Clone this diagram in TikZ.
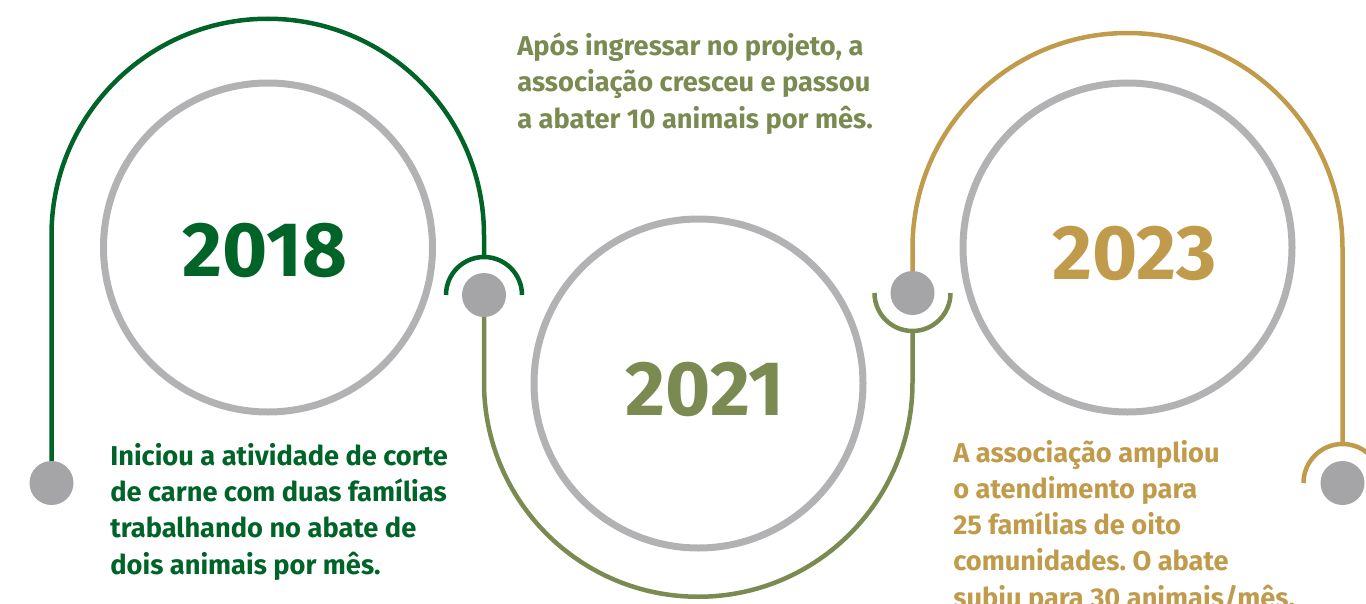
\documentclass[tikz,border=0pt]{standalone}
\usepackage{fontspec}
\setmainfont{Fira Sans}
\usepackage{xcolor}
\usepackage{tikz}
\usetikzlibrary{calc}
\frenchspacing
\definecolor{mata}{HTML}{006428}
\definecolor{oliva}{HTML}{7A8A50}
\definecolor{ouro}{HTML}{C09B4B}
\definecolor{aro}{HTML}{B2B2B4}
\definecolor{ponto}{HTML}{A5A5A7}
\tikzset{
  dot/.style={circle, fill=ponto, minimum size=44*0.02cm, inner sep=0pt},
  ring/.style={circle, draw=aro, line width=7*0.02cm, minimum size=329*0.02cm, inner sep=0pt},
  yearlbl/.style={inner sep=0pt, font=\fontsize{44}{48}\selectfont\bfseries},
  note/.style={inner sep=0pt, align=left, anchor=base west, font=\fontsize{15.5}{20.6}\selectfont\bfseries},
  track/.style={line width=4.5*0.02cm}
}
\begin{document}
\begin{tikzpicture}[x=0.02cm, y=0.02cm]
        \clip (0,0) rectangle (1366,603);
        % rings and years
        \node[ring] (r1) at (268,355.5) {};
        \node[ring] (r2) at (698.5,219.5) {};
        \node[ring] (r3) at (1127.5,355.5) {};
        \node[yearlbl, text=mata] (y1) at (265,353) {2018};
        \node[yearlbl, text=oliva] (y2) at (705,213.5) {2021};
        \node[yearlbl, text=ouro] (y3) at (1134.5,349.5) {2023};
        % dots
        \coordinate (d0) at (51.5,120);
        \coordinate (d1) at (484,308);
        \coordinate (d2) at (912.5,310);
        \coordinate (d3) at (1342.5,120);
        % tracks
        \draw[track, mata] (d0) -- ++(0,248) arc[start angle=180, end angle=0, radius=216.25] -- ($(d1)+(0,38)$);
        \draw[track, mata] ($(d1)+(-38,0)$) arc[start angle=180, end angle=0, radius=38];
        \draw[track, oliva] (d1) -- ++(0,-87.5) arc[start angle=180, end angle=360, radius=214.25] -- ($(d2)+(0,-38)$);
        \draw[track, oliva] ($(d2)+(-38,0)$) arc[start angle=180, end angle=360, radius=38];
        \draw[track, ouro] (d2) -- ++(0,45) arc[start angle=180, end angle=0, radius=215] -- ($(d3)+(0,39)$);
        \draw[track, ouro] ($(d3)+(-39,0)$) arc[start angle=180, end angle=0, radius=39];
        \foreach \d in {d0,d1,d2,d3}
          \node[dot] (p\d) at (\d) {};
        % notes
        \node[note, text=mata] (t1) at (110,29) {Iniciou a atividade de corte\\de carne com duas famílias\\trabalhando no abate de\\dois animais por mês.};
        \node[note, text=oliva] (t2) at (517,475) {Após ingressar no projeto, a\\associação cresceu e passou\\a abater 10 animais por mês.};
        \node[note, text=ouro] (t3) at (953,-4) {A associação ampliou\\o atendimento para\\25 famílias de oito\\comunidades. O abate\\subiu para 30 animais/mês.};
      \end{tikzpicture}
\end{document}
